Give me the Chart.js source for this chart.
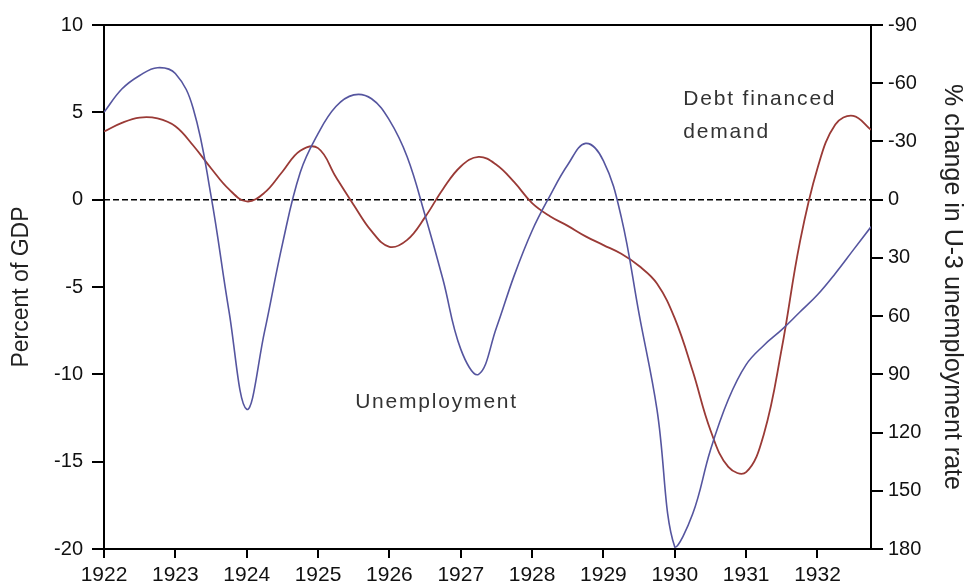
<!DOCTYPE html>
<html>
<head>
<meta charset="utf-8">
<script src="https://cdn.jsdelivr.net/npm/chart.js@4"></script>
<style>
    html, body { margin: 0; padding: 0; background: #fff; }
    #wrap { width: 969px; height: 586px; }
</style>
</head>
<body>
<div id="wrap"><canvas id="chart" width="969" height="586"></canvas></div>
<script>
// 年份刻度
const yearTicks = [1922, 1923, 1924, 1925, 1926, 1927, 1928, 1929, 1930, 1931, 1932];

// 季度 (1922 Q1 .. 1932 Q4)
const quarters = [
    1922.00, 1922.25, 1922.50, 1922.75, 1923.00, 1923.25, 1923.50, 1923.75,
    1924.00, 1924.25, 1924.50, 1924.75, 1925.00, 1925.25, 1925.50, 1925.75,
    1926.00, 1926.25, 1926.50, 1926.75, 1927.00, 1927.25, 1927.50, 1927.75,
    1928.00, 1928.25, 1928.50, 1928.75, 1929.00, 1929.25, 1929.50, 1929.75,
    1930.00, 1930.25, 1930.50, 1930.75, 1931.00, 1931.25, 1931.50, 1931.75,
    1932.00, 1932.25, 1932.50, 1932.75
];

// 债务融资需求 (左轴, % of GDP)
const debtValues = [
    3.9, 4.4, 4.7, 4.65, 4.2, 3.1, 1.8, 0.6,
    -0.1, 0.4, 1.6, 2.8, 2.95, 1.3, -0.3, -1.8,
    -2.7, -2.3, -1.0, 0.6, 1.9, 2.45, 2.0, 1.0,
    -0.2, -0.95, -1.5, -2.1, -2.6, -3.1, -3.8, -4.8,
    -6.8, -9.8, -13.2, -15.3, -15.6, -13.4, -8.5, -2.5,
    1.8, 4.3, 4.8, 4.0
];

// 失业率变化 (右轴, 反向)
const unempValues = [
    -45, -57, -64, -68, -65, -47, -2, 57,
    108, 68, 23, -14, -34, -48, -54, -52,
    -41, -22, 8, 41, 77, 90, 66, 39,
    16, -2, -18, -29, -20, 9, 59, 108,
    179, 162, 129, 103, 85, 75, 67, 58,
    49, 38, 26, 14
];

const leftTicks  = [10, 5, 0, -5, -10, -15, -20];
const rightTicks = [-90, -60, -30, 0, 30, 60, 90, 120, 150, 180];

const FONT = 'Liberation Sans, Arial, sans-serif';

function toPoints(xs, ys) {
    return xs.map((x, i) => ({ x: x, y: ys[i] }));
}

// 文本标注
const labelsPlugin = {
    id: 'labels',
    afterDatasetsDraw(chart) {
        const { ctx, scales } = chart;
        ctx.save();
        ctx.fillStyle = '#333';
        ctx.font = '21px ' + FONT;
        ctx.letterSpacing = '1.8px';
        ctx.textAlign = 'left';
        ctx.textBaseline = 'alphabetic';
        ctx.fillText('Unemployment', scales.x.getPixelForValue(1925.52), scales.y.getPixelForValue(-11.9));
        ctx.fillText('Debt financed', scales.x.getPixelForValue(1930.12), scales.y.getPixelForValue(5.4));
        ctx.fillText('demand', scales.x.getPixelForValue(1930.12), scales.y.getPixelForValue(3.55));
        ctx.restore();
    }
};

const ctx = document.getElementById('chart').getContext('2d');
new Chart(ctx, {
    type: 'line',
    data: {
        datasets: [
            {
                label: 'Unemployment',
                data: toPoints(quarters, unempValues),
                yAxisID: 'y2',
                borderColor: '#55559f',
                borderWidth: 1.6,
                pointRadius: 0,
                tension: 0.4,
                fill: false
            },
            {
                label: 'Debt financed demand',
                data: toPoints(quarters, debtValues),
                yAxisID: 'y',
                borderColor: '#9a3a36',
                borderWidth: 1.8,
                pointRadius: 0,
                tension: 0.4,
                fill: false
            },
            {
                label: 'zero',
                data: [{ x: 1922, y: 0 }, { x: 1932.75, y: 0 }],
                yAxisID: 'y',
                borderColor: '#000',
                borderWidth: 1.5,
                borderDash: [6, 3],
                pointRadius: 0
            }
        ]
    },
    options: {
        responsive: false,
        animation: false,
        layout: { padding: 0 },
        plugins: {
            legend: { display: false },
            tooltip: { enabled: false }
        },
        scales: {
            x: {
                type: 'linear',
                position: 'bottom',
                min: 1922,
                max: 1932.75,
                afterBuildTicks: s => { s.ticks = yearTicks.map(v => ({ value: v })); },
                afterFit: s => { s.height = 37; },
                ticks: {
                    color: '#111',
                    font: { family: FONT, size: 21 },
                    padding: 5,
                    maxRotation: 0,
                    autoSkip: false,
                    callback: v => String(v)
                },
                grid: { drawOnChartArea: false, drawTicks: true, tickLength: 9, color: '#000', lineWidth: 2 },
                border: { display: true, color: '#000', width: 2 }
            },
            xTop: {
                type: 'linear',
                position: 'top',
                min: 1922,
                max: 1932.75,
                afterFit: s => { s.height = 25; },
                ticks: { display: false },
                grid: { display: false },
                border: { display: true, color: '#000', width: 2 }
            },
            y: {
                type: 'linear',
                position: 'left',
                min: -20,
                max: 10,
                afterBuildTicks: s => { s.ticks = leftTicks.map(v => ({ value: v })); },
                afterFit: s => { s.width = 104; },
                ticks: {
                    color: '#111',
                    font: { family: FONT, size: 20 },
                    padding: 9
                },
                grid: { drawOnChartArea: false, drawTicks: true, tickLength: 12, color: '#000', lineWidth: 2 },
                border: { display: true, color: '#000', width: 2 },
                title: {
                    display: true,
                    text: 'Percent of GDP',
                    color: '#222',
                    font: { family: FONT, size: 23 },
                    padding: { top: 8, bottom: 0 }
                }
            },
            y2: {
                type: 'linear',
                position: 'right',
                reverse: true,
                min: -90,
                max: 180,
                afterBuildTicks: s => { s.ticks = rightTicks.map(v => ({ value: v })); },
                afterFit: s => { s.width = 98; },
                ticks: {
                    color: '#111',
                    font: { family: FONT, size: 20 },
                    padding: 5
                },
                grid: { drawOnChartArea: false, drawTicks: true, tickLength: 12, color: '#000', lineWidth: 2 },
                border: { display: true, color: '#000', width: 2 },
                title: {
                    display: true,
                    text: '% change in U-3 unemployment rate',
                    color: '#222',
                    font: { family: FONT, size: 25 },
                    padding: { top: 2, bottom: 0 }
                }
            }
        }
    },
    plugins: [labelsPlugin]
});
</script>
</body>
</html>
